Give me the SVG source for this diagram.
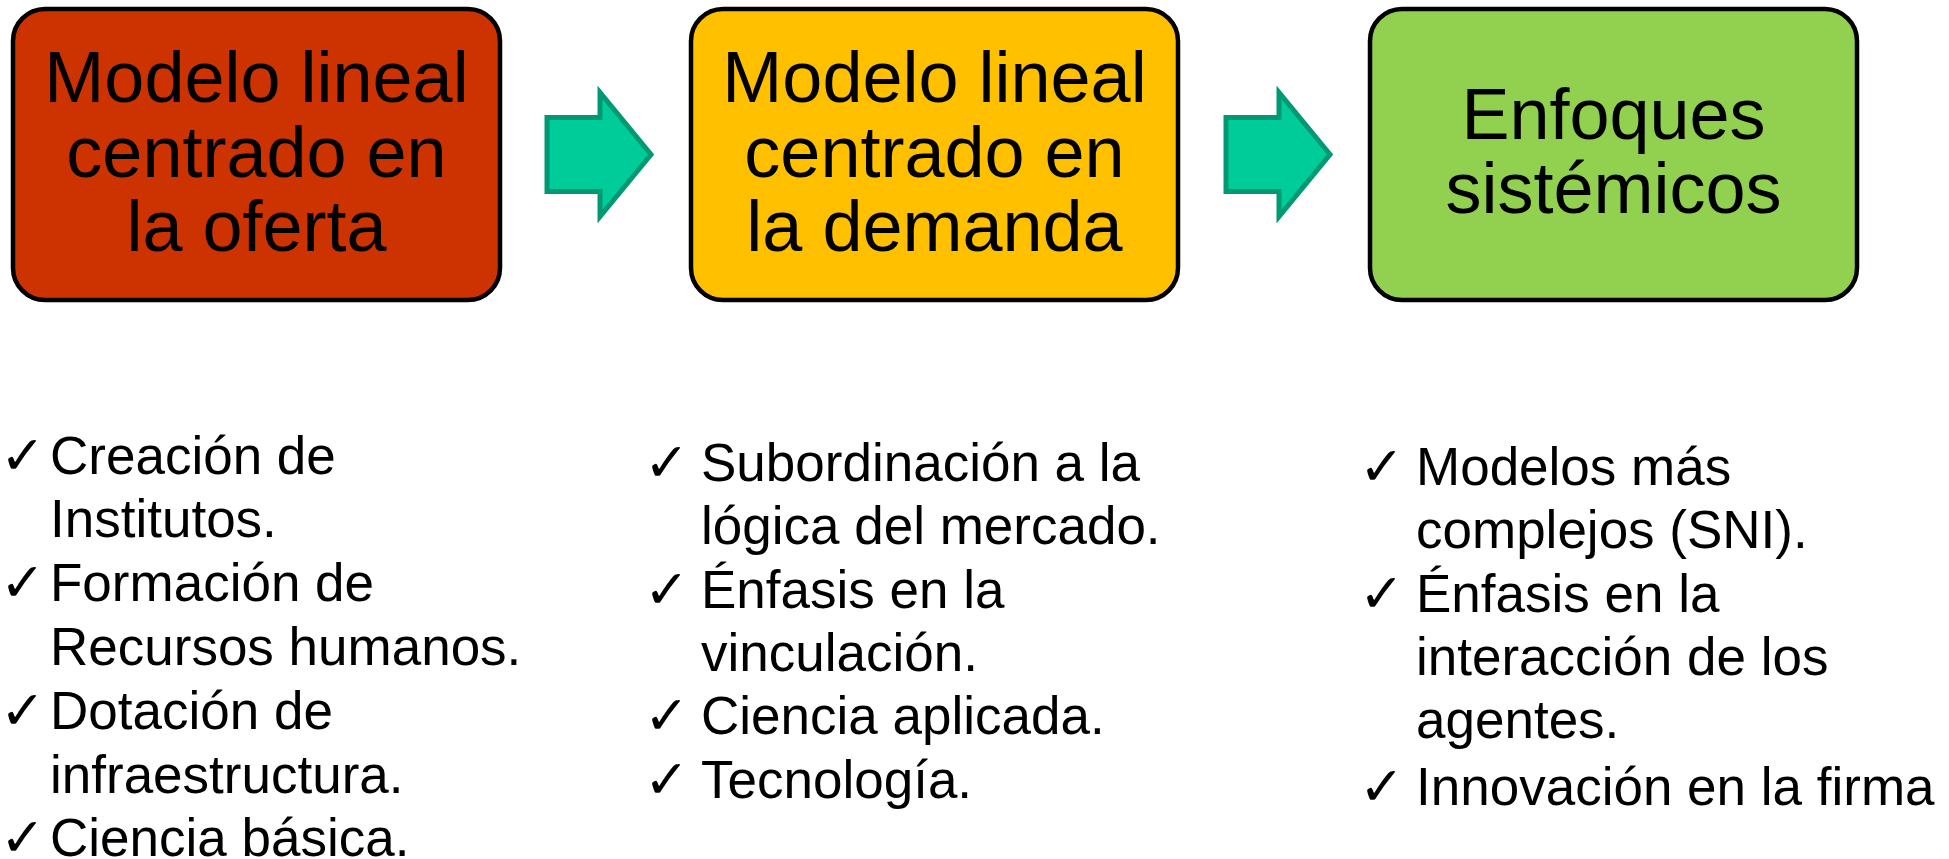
<svg xmlns="http://www.w3.org/2000/svg" width="1949" height="859" viewBox="0 0 1949 859">
<style>
.box{stroke:#000;stroke-width:4.5}
.t{font-family:"Liberation Sans",Arial,sans-serif;font-size:72px;fill:#000;text-anchor:middle}
.b{font-family:"Liberation Sans",Arial,sans-serif;font-size:53px;fill:#000}
.ck{font-family:"DejaVu Sans",sans-serif;font-size:54px;fill:#000}
.arr{fill:#00CC99;stroke:#009973;stroke-width:5;stroke-linejoin:miter}
</style>
<defs>
<path id="arrow" d="M0,-37 L53,-37 L53,-62 L104,0 L53,62 L53,37 L0,37 Z"/>
</defs>
<rect width="1949" height="859" fill="#fff"/>
<g id="connectors">
<use href="#arrow" class="arr" transform="translate(547,154.5)"/>
<use href="#arrow" class="arr" transform="translate(1226,154.5)"/>
</g>
<g id="node1">
<rect class="box" x="13" y="9" width="487" height="291" rx="32" fill="#CC3300"/>
<text class="t" x="256.5" y="102">Modelo lineal</text>
<text class="t" x="256.5" y="177">centrado en</text>
<text class="t" x="256.5" y="251">la oferta</text>
</g>
<g id="node2">
<rect class="box" x="691" y="9" width="487" height="291" rx="32" fill="#FFC000"/>
<text class="t" x="934.5" y="102">Modelo lineal</text>
<text class="t" x="934.5" y="177">centrado en</text>
<text class="t" x="934.5" y="251">la demanda</text>
</g>
<g id="node3">
<rect class="box" x="1370" y="9" width="487" height="291" rx="32" fill="#92D050"/>
<text class="t" x="1613.5" y="139">Enfoques</text>
<text class="t" x="1613.5" y="213">sistémicos</text>
</g>
<g id="list1">
<text class="ck" x="0" y="474">✓</text>
<text class="b" x="50" y="474">Creación de</text>
<text class="b" x="50" y="537">Institutos.</text>
<text class="ck" x="0" y="601">✓</text>
<text class="b" x="50" y="601">Formación de</text>
<text class="b" x="50" y="665">Recursos humanos.</text>
<text class="ck" x="0" y="729">✓</text>
<text class="b" x="50" y="729">Dotación de</text>
<text class="b" x="50" y="793">infraestructura.</text>
<text class="ck" x="0" y="856">✓</text>
<text class="b" x="50" y="856">Ciencia básica.</text>
</g>
<g id="list2">
<text class="ck" x="644" y="481">✓</text>
<text class="b" x="701" y="481">Subordinación a la</text>
<text class="b" x="701" y="544">lógica del mercado.</text>
<text class="ck" x="644" y="608">✓</text>
<text class="b" x="701" y="608">Énfasis en la</text>
<text class="b" x="701" y="671">vinculación.</text>
<text class="ck" x="644" y="734">✓</text>
<text class="b" x="701" y="734">Ciencia aplicada.</text>
<text class="ck" x="644" y="798">✓</text>
<text class="b" x="701" y="798">Tecnología.</text>
</g>
<g id="list3">
<text class="ck" x="1359" y="485">✓</text>
<text class="b" x="1416" y="485">Modelos más</text>
<text class="b" x="1416" y="548">complejos (SNI).</text>
<text class="ck" x="1359" y="612">✓</text>
<text class="b" x="1416" y="612">Énfasis en la</text>
<text class="b" x="1416" y="675">interacción de los</text>
<text class="b" x="1416" y="738">agentes.</text>
<text class="ck" x="1359" y="805">✓</text>
<text class="b" x="1416" y="805">Innovación en la firma</text>
</g>
</svg>
